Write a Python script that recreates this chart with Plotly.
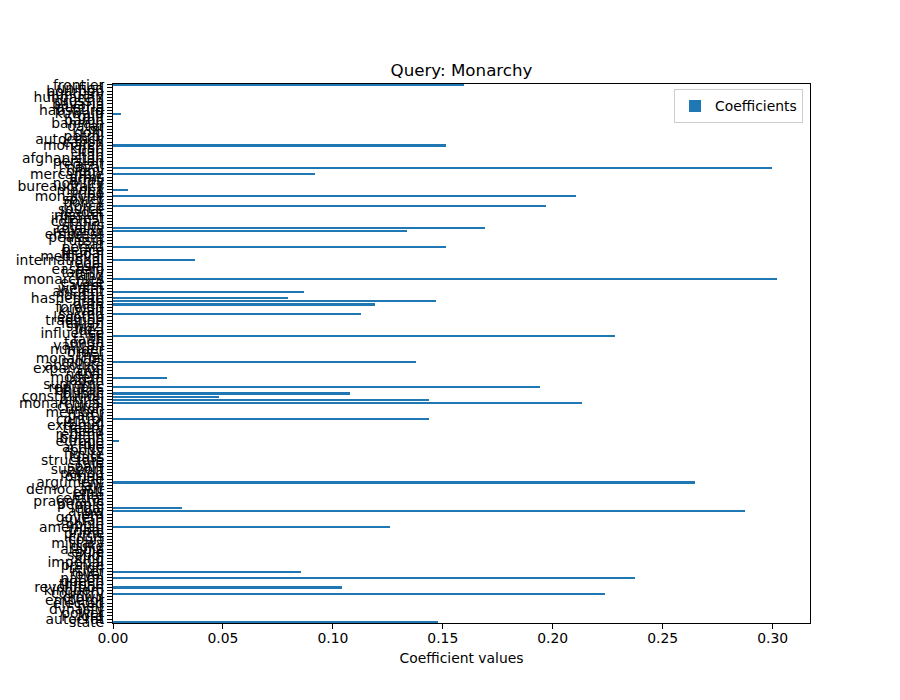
import plotly.graph_objects as go

# words for query "Monarchy", listed bottom -> top as they appear on the y axis
words = [
    "state", "autocrat", "lord", "power", "dynasty", "heir", "elected", "emperor", "crown", "country",
    "kingdom", "revolution", "throne", "queen", "nation", "royal", "ruler", "reign", "prince", "imperial",
    "king", "saudi", "exile", "arabia", "duke", "military", "court", "crisis", "prime", "tribal",
    "american", "noble", "sultan", "govern", "era", "allow", "legal", "people", "pragmatic", "central",
    "elite", "emir", "democratic", "law", "argument", "title", "oman", "period", "support", "spain",
    "rule", "structure", "class", "figure", "body", "active", "role", "europe", "britain", "regime",
    "head", "treaty", "external", "island", "control", "party", "member", "union", "church", "monarchical",
    "brunei", "constitution", "public", "bhutan", "republic", "supreme", "japan", "modern", "nepal", "civil",
    "expansion", "absolute", "model", "monarchs", "thai", "order", "number", "vatican", "tonga", "faith",
    "fiji", "influence", "idea", "swazi", "italian", "tradition", "lesotho", "sacred", "kuwait", "foreign",
    "oath", "arab", "hashemite", "jordan", "ancient", "wealth", "west", "estate", "monarchies", "land",
    "family", "eastern", "asia", "regal", "international", "medieval", "feudal", "peace", "persia", "tsar",
    "russia", "peasant", "empress", "religion", "royalty", "status", "colonial", "interest", "russian", "leader",
    "source", "force", "policy", "soviet", "monarchy", "tribe", "money", "bureaucracy", "nobility", "army",
    "arms", "mercantile", "colony", "naval", "regent", "persian", "afghanistan", "shah", "iran", "khan",
    "monarch", "caliph", "autocracy", "petrol", "gold", "oil", "qatar", "bahrain", "baron", "gulf",
    "kuwaiti", "habsburg", "austria", "bavaria", "prussia", "hungarian", "hungary", "bourbon", "unified", "frontier",
]

coefficients = [
    0.1480, 0, 0, 0, 0, 0, 0, 0, 0, 0.2239,
    0, 0.1043, 0, 0, 0.2376, 0, 0.0857, 0, 0, 0,
    0, 0, 0, 0, 0, 0, 0, 0, 0, 0,
    0.1261, 0, 0, 0, 0, 0.2873, 0.0315, 0, 0, 0,
    0, 0, 0, 0, 0.2645, 0, 0, 0, 0, 0,
    0, 0, 0, 0, 0, 0, 0, 0.0027, 0, 0,
    0, 0, 0, 0, 0.1435, 0, 0, 0, 0, 0.2134,
    0.1435, 0.0483, 0.1080, 0, 0.1940, 0, 0, 0.0245, 0, 0,
    0, 0, 0.1380, 0, 0, 0, 0, 0, 0, 0,
    0.2285, 0, 0, 0, 0, 0, 0, 0.1126, 0, 0,
    0.1193, 0.1471, 0.0797, 0, 0.0870, 0, 0, 0, 0.3019, 0,
    0, 0, 0, 0, 0.0374, 0, 0, 0, 0.1514, 0,
    0, 0, 0, 0.1336, 0.1690, 0, 0, 0, 0, 0,
    0, 0.1970, 0, 0, 0.2107, 0, 0.0067, 0, 0, 0,
    0, 0.0920, 0, 0.2996, 0, 0, 0, 0, 0, 0,
    0.1514, 0, 0, 0, 0, 0, 0, 0, 0, 0,
    0.0035, 0, 0, 0, 0, 0, 0, 0, 0, 0.1596,
]

x_ticks = [0.00, 0.05, 0.10, 0.15, 0.20, 0.25, 0.30]

assert len(words) == len(coefficients) == len(set(words)), (len(words), len(coefficients), len(set(words)))

font = "DejaVu Sans, Arial, sans-serif"

fig = go.Figure()
fig.add_trace(go.Bar(x=coefficients, y=words, orientation="h", name="Coefficients",
                     width=0.5, marker=dict(color="#1f77b4", line=dict(width=0)),
                     showlegend=True))

# page body has an 8px margin, so the figure is a bit smaller and margins shifted
fig.update_layout(
    width=892, height=692,
    plot_bgcolor="white", paper_bgcolor="white",
    margin=dict(l=105, r=90, t=76, b=77, autoexpand=False),
    font=dict(family=font, size=14, color="black"),
    title=dict(text="Query: Monarchy", x=0.5, xref="paper", y=1, yref="paper",
               yanchor="bottom", pad=dict(b=8), font=dict(size=16.7, color="black")),
    legend=dict(x=0.99, y=0.99, xanchor="right", yanchor="top",
                bgcolor="rgba(255,255,255,0.8)", bordercolor="#cccccc", borderwidth=1,
                font=dict(size=13.9), tracegroupgap=0),
    bargap=0,
)
fig.update_xaxes(range=[0, 0.317], tickvals=x_ticks, tickformat=".2f", automargin=False,
                 showgrid=False, zeroline=False, showline=True, linecolor="black",
                 linewidth=1.1, mirror=True, ticks="outside", ticklen=5, tickwidth=1.1,
                 tickcolor="black", tickfont=dict(size=13.9), ticklabelstandoff=-3,
                 title=dict(text="Coefficient values", font=dict(size=13.9), standoff=8))
fig.update_yaxes(type="category", range=[-0.25, len(words) - 0.75], dtick=1, automargin=False,
                 showgrid=False, zeroline=False, showline=True, linecolor="black",
                 linewidth=1.1, mirror=True, ticks="outside", ticklen=5, tickwidth=1.1,
                 tickcolor="black", tickfont=dict(size=13.9))

fig.write_html("out.html")
